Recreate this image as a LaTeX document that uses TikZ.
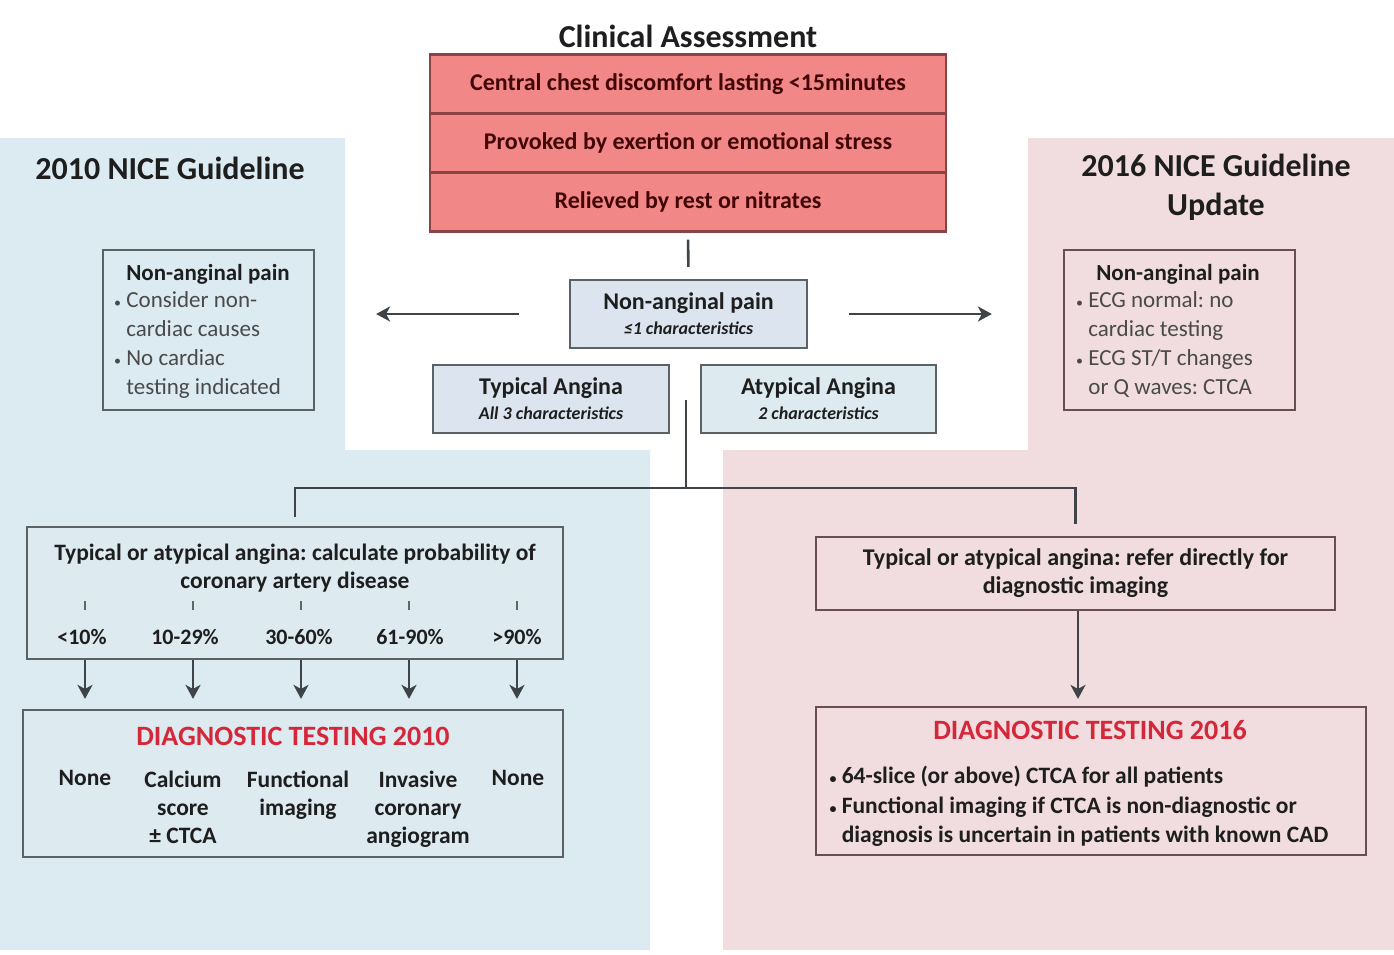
\documentclass[tikz,border=0pt]{standalone}
\usepackage{fontspec}
\setmainfont{Carlito}
\usetikzlibrary{arrows.meta}
\frenchspacing
\definecolor{bluebg}{HTML}{DCEBF1}
\definecolor{pinkbg}{HTML}{F1DDDF}
\definecolor{redfill}{HTML}{F28787}
\definecolor{redline}{HTML}{8A4244}
\definecolor{redtext}{HTML}{420606}
\definecolor{boxblue}{HTML}{DCE5EF}
\definecolor{boxcyan}{HTML}{DDEAF0}
\definecolor{lineg}{HTML}{3F4448}
\definecolor{boxline}{HTML}{5A6266}
\definecolor{titlered}{HTML}{D4283A}
\definecolor{pinkline}{HTML}{6A4E52}
\definecolor{txt}{HTML}{1E1E1E}
\definecolor{lighttxt}{HTML}{4A4A4A}
\newcommand\fsz[2]{\fontsize{#1}{#2}\selectfont}
\newcommand\sbul{{\fsz{14}{14}\textbullet}\ }
\newcommand\sind{\hphantom{\sbul}}
\tikzset{
  redrow/.style={draw=redline, line width=2.2pt, fill=redfill, minimum width=516pt, minimum height=59pt, text=redtext, font=\fsz{24}{28}\bfseries},
  cbox/.style={draw=boxline, line width=2.2pt, fill=boxblue, minimum height=68pt, align=center, text=txt, font=\fsz{24}{25}\bfseries, inner sep=2pt},
  pbox/.style={draw=boxline, line width=2.2pt, fill=bluebg, text=txt},
  rbox/.style={draw=pinkline, line width=2.2pt, fill=pinkbg, text=txt},
  ln/.style={draw=lineg, line width=2.6pt},
  arr/.style={draw=lineg, line width=2.4pt, -{Stealth[length=14pt,width=15pt,inset=4pt]}},
  tick/.style={draw=gray!80!black, line width=1.2pt},
  lbl/.style={text=txt, font=\fsz{23.5}{28}\bfseries, align=center},
  bul/.style={text=lighttxt, font=\fsz{23}{29}, align=left, anchor=north west, inner sep=0pt},
}
\begin{document}
\begin{tikzpicture}[x=1pt,y=-1pt]
\useasboundingbox (0,0) rectangle (1394,954);
% panels
\fill[bluebg] (0,138) -- (345,138) -- (345,450) -- (650,450) -- (650,950) -- (0,950) -- cycle;
\fill[pinkbg] (1028,138) -- (1394,138) -- (1394,950) -- (723,950) -- (723,450) -- (1028,450) -- cycle;

% headings
\node[font=\fsz{32}{38}\bfseries, text=txt] (title) at (688,36) {Clinical Assessment};
\node[font=\fsz{32}{39}\bfseries, text=txt] (h2010) at (170,168) {2010 NICE Guideline};
\node[font=\fsz{32}{39}\bfseries, text=txt, align=center] (h2016) at (1216,187.5) {2016 NICE Guideline\\Update};

% red box
\node[redrow] (r1) at (688,84) {Central chest discomfort lasting <15minutes};
\node[redrow] (r2) at (688,143) {Provoked by exertion or emotional stress};
\node[redrow] (r3) at (688,202) {Relieved by rest or nitrates};

% central boxes
\node[cbox, minimum width=237pt] (nonang) at (688.5,314) {Non-anginal pain\\\fsz{18}{25}\bfseries\itshape ≤1 characteristics};
\node[cbox, minimum width=236pt] (typ) at (551,399) {Typical Angina\\\fsz{18}{25}\bfseries\itshape All 3 characteristics};
\node[cbox, fill=boxcyan, minimum width=235pt] (atyp) at (818.5,399) {Atypical Angina\\\fsz{18}{25}\bfseries\itshape 2 characteristics};

% side non-anginal boxes
\node[pbox, minimum width=211pt, minimum height=160pt] (lnon) at (208.5,330) {};
\node[font=\fsz{23}{29}\bfseries, text=txt] (lnont) at (208,274) {Non-anginal pain};
\node[bul] (lnonb) at (114,291) {\sbul Consider non-\\\sind cardiac causes\\\sbul No cardiac\\\sind testing indicated};
\node[rbox, minimum width=231pt, minimum height=160pt] (rnon) at (1179.5,330) {};
\node[font=\fsz{23}{29}\bfseries, text=txt] (rnont) at (1178,274) {Non-anginal pain};
\node[bul] (rnonb) at (1076,291) {\sbul ECG normal: no\\\sind cardiac testing\\\sbul ECG ST/T changes\\\sind or Q waves: CTCA};

% left calc box
\node[pbox, fill=boxcyan, minimum width=536pt, minimum height=132pt] (lcalc) at (295,593) {};
\node[lbl, anchor=north, font=\fsz{23.5}{28}\bfseries] (lcalct) at (295,540) {Typical or atypical angina: calculate probability of\\coronary artery disease};
\foreach \x/\t [count=\i] in {82/<10\%,185/10-29\%,299/30-60\%,410/61-90\%,517/>90\%}{
  \node[lbl, font=\fsz{22}{28}\bfseries] (pc\i) at (\x,637) {\t};
}
\foreach \x in {85,193,301,409,517}{
  \draw[tick] (\x,601) -- (\x,610);
}

% diag 2010
\node[pbox, fill=boxcyan, minimum width=540pt, minimum height=147pt] (ldiag) at (293,783.5) {};
\node[font=\fsz{28}{32}\bfseries, text=titlered] (ldt) at (293,736) {DIAGNOSTIC TESTING 2010};
\node[lbl, anchor=north] (d1) at (85,767) {None};
\node[lbl, anchor=north] (d2) at (183,767) {Calcium\\score\\± CTCA};
\node[lbl, anchor=north] (d3) at (298,767) {Functional\\imaging};
\node[lbl, anchor=north] (d4) at (418,767) {Invasive\\coronary\\angiogram};
\node[lbl, anchor=north] (d5) at (518,767) {None};

% right boxes
\node[rbox, minimum width=519pt, minimum height=73pt, font=\fsz{24}{28}\bfseries, align=center] (rref) at (1075.5,573.5) {Typical or atypical angina: refer directly for\\diagnostic imaging};
\node[rbox, minimum width=550pt, minimum height=148pt] (rdiag) at (1091,781) {};
\node[font=\fsz{28}{32}\bfseries, text=titlered] (rdt) at (1090,730) {DIAGNOSTIC TESTING 2016};
\node[lbl, align=left, anchor=north west, font=\fsz{23.5}{29.5}\bfseries] (rb) at (826,763) {\sbul 64-slice (or above) CTCA for all patients\\\sbul Functional imaging if CTCA is non-diagnostic or\\\sind diagnosis is uncertain in patients with known CAD};

% connectors
\coordinate (jtop) at (686,400);
\coordinate (j) at (686,488);
\draw[ln, shorten <=7pt, shorten >=12pt] (r3.south) -- (nonang.north);
\draw[arr, shorten <=50pt, shorten >=61pt] (nonang.west) -- (nonang.west -| lnon.east);
\draw[arr, shorten <=41pt, shorten >=71pt] (nonang.east) -- (nonang.east -| rnon.west);
\draw[ln] (jtop) -- (j);
\draw[ln, shorten <=9pt, shorten >=12pt] (lcalc.north) |- (j) -| (rref.north);
\foreach \x [count=\i] in {85,193,301,409,517}{
  \coordinate (p\i) at (\x,0);
  \draw[arr, shorten >=10pt] (lcalc.south -| p\i) -- (ldiag.north -| p\i);
}
\coordinate (pr) at (1078,0);
\draw[arr, shorten >=7pt] (rref.south -| pr) -- (rdiag.north -| pr);
\end{tikzpicture}
\end{document}
